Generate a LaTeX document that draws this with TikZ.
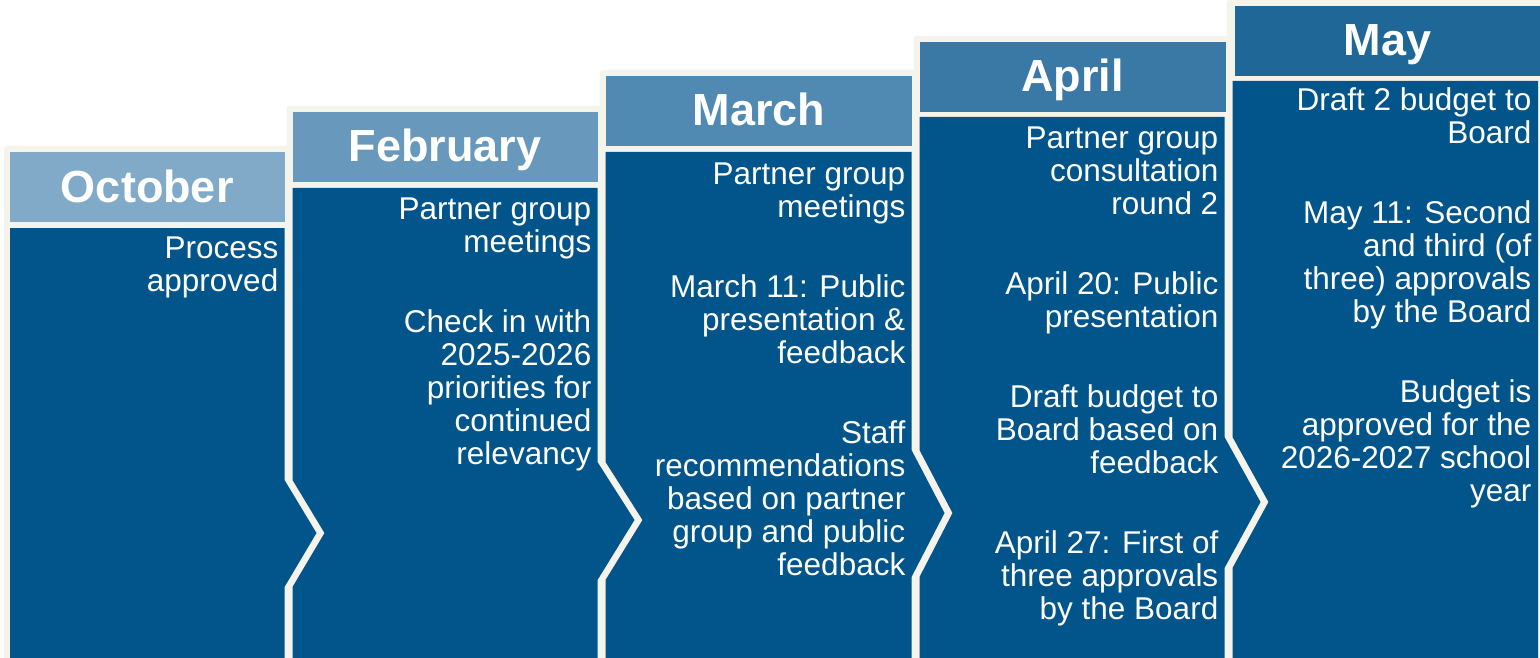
\documentclass[tikz,border=0pt]{standalone}
\usepackage{fontspec}
\setmainfont{Liberation Sans}
\definecolor{cream}{HTML}{F5F4EC}
\definecolor{bodyblue}{HTML}{02558A}
\definecolor{hOct}{HTML}{80AAC8}
\definecolor{hFeb}{HTML}{6899BD}
\definecolor{hMar}{HTML}{5089B2}
\definecolor{hApr}{HTML}{3A78A5}
\definecolor{hMay}{HTML}{1E6796}
\tikzset{
  frame/.style={fill=cream, rounded corners=3pt},
  bodyshape/.style={fill=bodyblue},
  month/.style={anchor=base, font=\fontsize{45}{50}\selectfont\bfseries, text=white, inner sep=0pt},
  items/.style={anchor=north east, align=right, font=\fontsize{31.5}{33}\selectfont, text=white, inner sep=0pt},
}
\begin{document}
\begin{tikzpicture}[x=1pt,y=-1pt]
\useasboundingbox (0,0) rectangle (1540,658);
\clip (0,0) rectangle (1540,658);
\fill[white] (0,0) rectangle (1540,658);
% cream frames
\path[frame] (4,146) rectangle (290.5,670);
\path[frame] (286.5,106) rectangle (603.5,670);
\path[frame] (599.5,70) rectangle (917.5,670);
\path[frame] (913.5,36) rectangle (1230.5,670);
\path[frame] (1226.5,0) rectangle (1546,670);
% headers
\fill[hOct] (10,152) rectangle (284.5,222);
\fill[hFeb] (292.5,112) rectangle (597.5,182);
\fill[hMar] (605.5,76) rectangle (911.5,146);
\fill[hApr] (919.5,42) rectangle (1225.5,112);
\fill[hMay] (1235,6) rectangle (1540,76);
% bodies
\path[bodyshape] (10,228) -- (284.5,228) -- (284.5,480) -- (316.5,533) -- (284.5,587) -- (284.5,660) -- (10,660) -- cycle;
\path[bodyshape] (292.5,188) -- (597.5,188) -- (597.5,462) -- (634.5,520) -- (597.5,580) -- (597.5,660) -- (292.5,660) -- (292.5,587) -- (324.5,533) -- (292.5,480) -- cycle;
\path[bodyshape] (605.5,152) -- (911.5,152) -- (911.5,450) -- (944.5,513) -- (911.5,577) -- (911.5,660) -- (605.5,660) -- (605.5,580) -- (642.5,520) -- (605.5,462) -- cycle;
\path[bodyshape] (919.5,117) -- (1224.5,117) -- (1224.5,437) -- (1260.5,502) -- (1224.5,568) -- (1224.5,660) -- (919.5,660) -- (919.5,577) -- (952.5,513) -- (919.5,450) -- cycle;
\path[bodyshape] (1232.5,81) -- (1538,81) -- (1538,660) -- (1232.5,660) -- (1232.5,568) -- (1268.5,502) -- (1232.5,437) -- cycle;
% month titles
\node[month] (oct) at (147.25,202) {October};
\node[month] (feb) at (445,162) {February};
\node[month] (mar) at (759,126) {March};
\node[month] (apr) at (1072.5,92) {April};
\node[month] (may) at (1387.5,56) {May};
% items
\node[items] (octt) at (278.5,237) {Process\\approved};
\node[items] (febt) at (591.5,198) {Partner group\\meetings\\[47pt]Check in with\\2025-2026\\priorities for\\continued\\relevancy};
\node[items] (mart) at (905.5,163) {Partner group\\meetings\\[47pt]March 11: Public\\presentation \&\\feedback\\[47pt]Staff\\recommendations\\based on partner\\group and public\\feedback};
\node[items] (aprt) at (1218.5,127) {Partner group\\consultation\\round 2\\[47pt]April 20: Public\\presentation\\[47pt]Draft budget to\\Board based on\\feedback\\[47pt]April 27: First of\\three approvals\\by the Board};
\node[items] (mayt) at (1531.5,87) {Draft 2 budget to\\Board\\[47pt]May 11: Second\\and third (of\\three) approvals\\by the Board\\[47pt]Budget is\\approved for the\\2026-2027 school\\year};
\end{tikzpicture}
\end{document}
